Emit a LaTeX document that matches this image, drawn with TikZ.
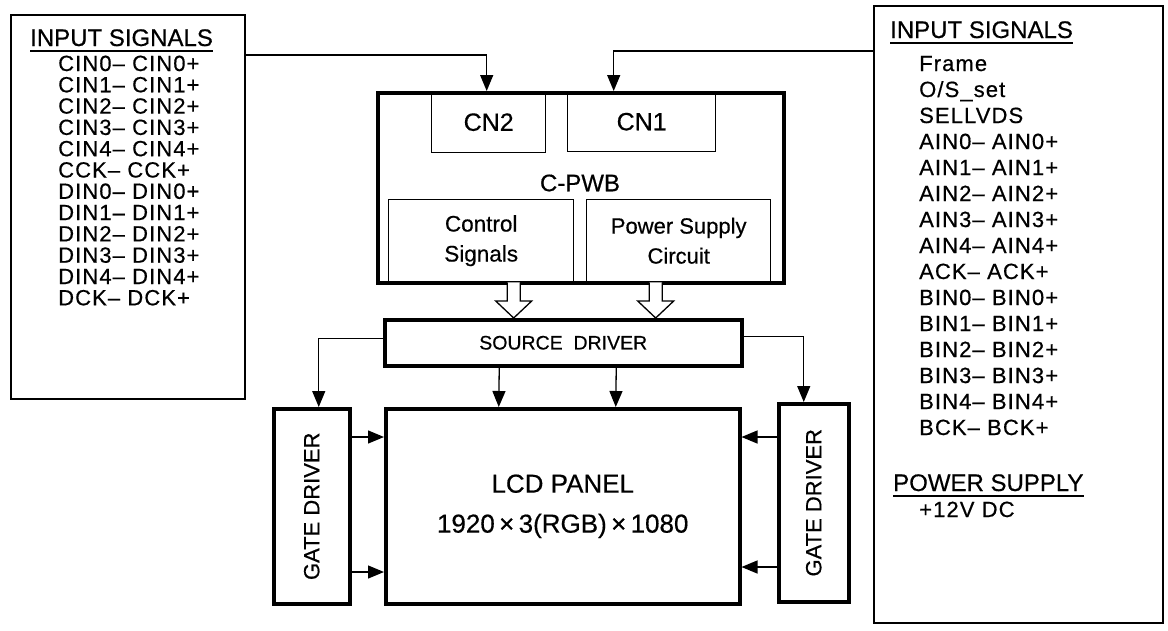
\documentclass[tikz,border=0pt]{standalone}
\usepackage{fontspec}
\setmainfont[FakeBold=0.5]{Liberation Sans}
\newfontfamily\rowfont[LetterSpace=5,FakeBold=0.5]{Liberation Sans}
\usetikzlibrary{arrows.meta,calc}
\newcommand\fsz[1]{\fontsize{#1}{#1}\selectfont}
\begin{document}
\begin{tikzpicture}[x=1pt,y=-1pt,
  thinbox/.style={draw, line width=1.4pt, inner sep=0pt, anchor=north west},
  thickbox/.style={draw, line width=3.5pt, inner sep=0pt, anchor=north west},
  arr/.style={line width=1.3pt, -{Triangle[width=13pt,length=16pt]}},
  rowtxt/.style={inner sep=0pt, anchor=base west, font=\rowfont\fsz{22}},
  head/.style={inner sep=0pt, anchor=base west, font=\fsz{24}},
  ]
\useasboundingbox (0,0) rectangle (1168,630);
% side boxes
\node[thinbox, line width=1.6pt, minimum width=234, minimum height=384] (lbox) at (10,14) {};
\node[thinbox, line width=1.6pt, minimum width=289, minimum height=617] (rbox) at (873,5) {};
% C-PWB
\node[thickbox, minimum width=406, minimum height=190] (cpwb) at (376,91) {};
\node[thinbox, minimum width=114, minimum height=61, font=\fsz{25}] (cn2) at (431,91) {CN2};
\node[thinbox, minimum width=148, minimum height=60, font=\fsz{25}] (cn1) at (567,91) {CN1};
\node[inner sep=0pt, font=\fsz{24}] (cpwblab) at (580,183) {C-PWB};
\node[thinbox, minimum width=185, minimum height=82, align=center, font=\fontsize{22.5}{30}\selectfont] (ctrl) at (388,199) {Control\\Signals};
\node[thinbox, minimum width=184, minimum height=82, align=center, font=\fontsize{22}{30}\selectfont] (psc) at (586,199) {Power Supply\\Circuit};
% drivers and panel
\node[thickbox, minimum width=357, minimum height=46, font=\fsz{19.5}] (sd) at (383,318) {SOURCE\ \ DRIVER};
\node[thickbox, minimum width=76, minimum height=195, font=\fsz{22}] (gd1) at (272,407) {\rotatebox{90}{GATE DRIVER}};
\node[thickbox, minimum width=354, minimum height=195, align=center, font=\fontsize{26}{40}\selectfont] (lcd) at (384,407) {LCD PANEL\\1920\,×\,3(RGB)\,×\,1080};
\node[thickbox, minimum width=70, minimum height=198, font=\fsz{22}] (gd2) at (777,402) {\rotatebox{90}{GATE DRIVER}};
% input connectors
\coordinate (ya) at (0,55);
\coordinate (yb) at (0,51);
\draw[arr] (lbox.east |- ya) -| ($(cn2.north)+(-2,0)$);
\draw[arr] (rbox.west |- yb) -| ($(cn1.north)+(-28,0)$);
% hollow arrows
\coordinate (ha) at ($(ctrl.south)+(32.5,0)$);
\coordinate (hb) at ($(psc.south)+(-23,0)$);
\foreach \c in {ha,hb}{
  \coordinate (\c t) at (\c |- sd.north);
  \draw[line width=1.3pt, fill=white, line join=miter]
    ($(\c)+(-6.5,0)$) -- ($(\c t)+(-6.5,-17)$) -- ($(\c t)+(-18,-17)$) -- (\c t)
    -- ($(\c t)+(18,-17)$) -- ($(\c t)+(6.5,-17)$) -- ($(\c)+(6.5,0)$);
}
% source driver connectors
\draw[arr] ($(sd.west)+(0,-4)$) -| ($(gd1.north)+(7,0)$);
\draw[arr] ($(sd.east)+(0,-6)$) -| ($(gd2.north)+(-10,0)$);
\draw[arr] ($(sd.south)+(-64,0)$) -- ($(lcd.north)+(-64,0)$);
\draw[arr] ($(sd.south)+(53,0)$) -- ($(lcd.north)+(53,0)$);
% gate driver connectors
\coordinate (g1) at (0,437);
\coordinate (g2) at (0,572);
\coordinate (g3) at (0,437);
\coordinate (g4) at (0,567);
\draw[arr] (gd1.east |- g1) -- (lcd.west |- g1);
\draw[arr] (gd1.east |- g2) -- (lcd.west |- g2);
\draw[arr] (gd2.west |- g3) -- (lcd.east |- g3);
\draw[arr] (gd2.west |- g4) -- (lcd.east |- g4);
% left list
\node[head] (lh) at (30,46) {INPUT SIGNALS};
\draw[line width=1.2pt] ($(lh.base west)+(0,5)$) -- ($(lh.base east)+(0,5)$);
\foreach \t [count=\i] in {{CIN0– CIN0+},{CIN1– CIN1+},{CIN2– CIN2+},{CIN3– CIN3+},{CIN4– CIN4+},{CCK– CCK+},{DIN0– DIN0+},{DIN1– DIN1+},{DIN2– DIN2+},{DIN3– DIN3+},{DIN4– DIN4+},{DCK– DCK+}}
  \node[rowtxt] (l\i) at (58,{71+21.3*(\i-1)}) {\t};
% right list
\node[head] (rh) at (890,38) {INPUT SIGNALS};
\draw[line width=1.2pt] ($(rh.base west)+(0,5)$) -- ($(rh.base east)+(0,5)$);
\foreach \t [count=\i] in {{Frame},{O/S\_set},{SELLVDS},{AIN0– AIN0+},{AIN1– AIN1+},{AIN2– AIN2+},{AIN3– AIN3+},{AIN4– AIN4+},{ACK– ACK+},{BIN0– BIN0+},{BIN1– BIN1+},{BIN2– BIN2+},{BIN3– BIN3+},{BIN4– BIN4+},{BCK– BCK+}}
  \node[rowtxt] (r\i) at (919,{71+26*(\i-1)}) {\t};
\node[head] (ph) at (893,491) {POWER SUPPLY};
\draw[line width=1.2pt] ($(ph.base west)+(0,5)$) -- ($(ph.base east)+(0,5)$);
\node[rowtxt] (pv) at (919,517) {+12V DC};
\end{tikzpicture}
\end{document}
